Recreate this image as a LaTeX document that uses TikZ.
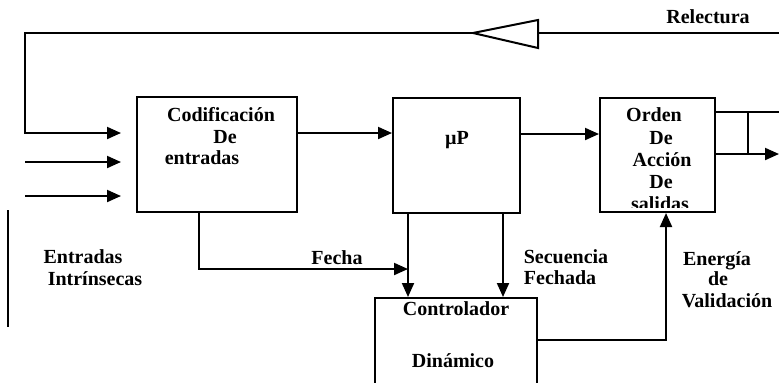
\documentclass[tikz,border=0pt]{standalone}
\usepackage{fontspec}
\setmainfont{Liberation Serif}
\usetikzlibrary{arrows.meta}

\begin{document}
\begin{tikzpicture}[x=0.5pt, y=-0.5pt, line width=1pt,
    blk/.style={draw, line width=1pt, inner sep=0pt},
    lbl/.style={font=\bfseries, inner sep=0pt, anchor=base},
    flow/.style={-{Triangle[length=7pt,width=6pt]}}]
      \clip (0,0) rectangle (779,382);
      % blocks
      \node[blk, minimum width=80pt, minimum height=57.5pt] (cod) at (217,154.5) {};
      \node[blk, minimum width=63.5pt, minimum height=57.5pt] (up) at (456.5,155.5) {};
      \node[blk, minimum width=57.5pt, minimum height=57pt] (orden) at (657.5,155) {};
      \node[blk, minimum width=81pt, minimum height=61pt] (ctrl) at (456,359) {};
      % block texts
      \node[lbl] (codA) at (221,121) {Codificación};
      \node[lbl] (codB) at (225,143) {De};
      \node[lbl] (codC) at (202,164) {entradas};
      \node[lbl] (upA) at (457,144) {µP};
      \node[lbl] (ordA) at (654,121) {Orden};
      \node[lbl] (ordB) at (661,144) {De};
      \node[lbl] (ordC) at (662,166) {Acción};
      \node[lbl] (ordD) at (661,188) {De};
      \begin{scope}
        \clip (orden.north west) rectangle ([yshift=3pt]orden.south east);
        \node[lbl] (ordE) at (660,210) {salidas};
      \end{scope}
      \node[lbl] (ctrlA) at (456,315) {Controlador};
      \node[lbl] (ctrlB) at (453,367) {Dinámico};
      % feedback with buffer
      \coordinate (fbR) at (779,33);
      \coordinate (fbL) at (25,33);
      \coordinate (bufTip) at (473,33);
      \coordinate (bufTop) at (538,20);
      \coordinate (bufBot) at (538,48);
      \draw (bufTip) -- (bufTop) -- (bufBot) -- cycle;
      \draw (fbR) -- (bufTop |- fbR);
      \coordinate (in1) at (121,133);
      \draw[flow] (bufTip) -- (fbL) |- (in1);
      \node[lbl] (relect) at (708,23) {Relectura};
      % inputs
      \coordinate (in2s) at (25,162);
      \coordinate (in2) at (121,162);
      \coordinate (in3s) at (25,196);
      \coordinate (in3) at (121,196);
      \draw[flow] (in2s) -- (in2);
      \draw[flow] (in3s) -- (in3);
      \draw (8,210) -- (8,327);
      \node[lbl] (entA) at (83,263) {Entradas};
      \node[lbl] (entB) at (95,285) {Intrínsecas};
      % main chain
      \coordinate (rowA) at (0,133);
      \coordinate (rowB) at (0,134);
      \draw[flow] (cod.east |- rowA) -- (up.west |- rowA);
      \draw[flow] (up.east |- rowB) -- (orden.west |- rowB);
      % outputs
      \coordinate (out1) at (779,112);
      \coordinate (out2) at (779,154);
      \coordinate (tapA) at (748,112);
      \coordinate (tapB) at (748,154);
      \draw (orden.east |- out1) -- (out1);
      \draw[flow] (orden.east |- out2) -- (out2);
      \draw (tapA) -- (tapB);
      % fecha
      \coordinate (dA) at (408,0);
      \coordinate (dB) at (503,0);
      \coordinate (fk) at (199,269);
      \draw[flow] (cod.south -| fk) |- (dA |- fk);
      \node[lbl] (fecha) at (337,264) {Fecha};
      % to controller
      \draw[flow] (up.south -| dA) -- (ctrl.north -| dA);
      \draw[flow] (up.south -| dB) -- (ctrl.north -| dB);
      \node[lbl] (secA) at (566,263) {Secuencia};
      \node[lbl] (secB) at (560,284) {Fechada};
      % validation energy
      \coordinate (vE) at (666,340);
      \draw[flow] (ctrl.east |- vE) -| (orden.south -| vE);
      \node[lbl] (enA) at (717,265) {Energía};
      \node[lbl] (enB) at (718,285) {de};
      \node[lbl] (enC) at (727,307) {Validación};
    \end{tikzpicture}
\end{document}
